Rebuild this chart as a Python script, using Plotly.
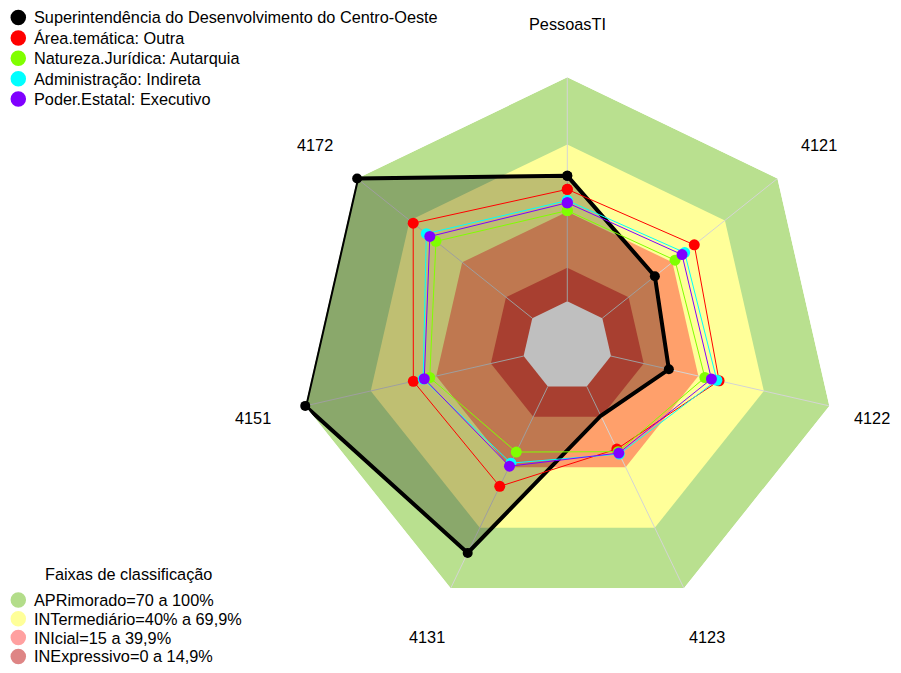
import math
import plotly.graph_objects as go

# ---------------- data ----------------
categories = ["PessoasTI", "4121", "4122", "4123", "4131", "4151", "4172"]

series_names = [
    "Superintendência do Desenvolvimento do Centro-Oeste",
    "Área.temática: Outra",
    "Natureza.Jurídica: Autarquia",
    "Administração: Indireta",
    "Poder.Estatal: Executivo",
]
sudeco = [56, 30, 26.5, 14.5, 82.5, 100, 100]
area_outra = [50, 52.5, 49.5, 31, 49.5, 50.5, 68]
natureza_autarquia = [40.5, 41.5, 43, 32.3, 32.5, 43, 55]
adm_indireta = [45, 47, 48.5, 33.5, 38, 46, 60.5]
poder_executivo = [44, 45.5, 46, 33, 39.5, 45.5, 58.5]

legend2_title = "Faixas de classificação"
band_labels = [
    "APRimorado=70 a 100%",
    "INTermediário=40% a 69,9%",
    "INIcial=15 a 39,9%",
    "INExpressivo=0 a 14,9%",
]
band_upper = [100, 70, 40, 15, 0]  # outer limit of each band (last = inner white core)
r_center, r_axis_min, r_axis_max = -20, 0, 100

# ---------------- styles / layout ----------------
PAGE_W, PAGE_H, BODY_MARGIN = 901, 673, 8   # the html page has the default 8px body margin
W, H = PAGE_W - BODY_MARGIN, PAGE_H - 2 * BODY_MARGIN
VISIBLE_RIGHT = PAGE_W - BODY_MARGIN - 1
FONT = "Arial, 'Liberation Sans', sans-serif"
FS = 16.3
band_fill = ["#B9E08F", "#FFFF99", "#FFA06B", "#E05540", "#FFFFFF"]
band_legend = ["#B3DD8A", "#FFFF99", "#FFA0A0", "#DE8585"]
series_colors = ["#000000", "#FF0000", "#80FF00", "#00FFFF", "#8000FF"]
series_values = [sudeco, area_outra, natureza_autarquia, adm_indireta, poder_executivo]

CX, CY, R100 = 567.3, 346.1, 268.8          # page-pixel centre and radius of the 100 ring
LABEL_FACTOR = 1.2                          # axis labels sit at 1.2 x the outer radius
LABEL_HALF_W = 18


def px(x):  # page pixel -> paper
    return (x - BODY_MARGIN) / W


def py(y):
    return 1 - (y - BODY_MARGIN) / H


def closed(v):
    return list(v) + [v[0]]


theta_c = closed(categories)
fig = go.Figure()

# background bands
for up, col in zip(band_upper, band_fill):
    fig.add_trace(go.Scatterpolar(
        r=[up] * (len(categories) + 1), theta=theta_c, mode="lines",
        line=dict(width=0, color=col), fill="toself", fillcolor=col,
        hoverinfo="skip", showlegend=False))

# spokes
sr, st = [], []
for c in categories:
    sr += [r_axis_min, r_axis_max, None]
    st += [c, c, None]
fig.add_trace(go.Scatterpolar(r=sr, theta=st, mode="lines",
                              line=dict(color="#D4D4D4", width=1),
                              hoverinfo="skip", showlegend=False))

# series
for i, (name, vals, col) in enumerate(zip(series_names, series_values, series_colors)):
    if i == 0:
        fig.add_trace(go.Scatterpolar(
            r=closed(vals), theta=theta_c, mode="lines+markers", name=name,
            line=dict(color=col, width=4), marker=dict(size=10, color=col),
            fill="toself", fillcolor="rgba(0,0,0,0.25)", showlegend=False))
    else:
        fig.add_trace(go.Scatterpolar(
            r=closed(vals), theta=theta_c, mode="lines+markers", name=name,
            line=dict(color=col, width=1), marker=dict(size=11, color=col),
            showlegend=False))

shapes, annotations = [], []

# axis labels (placed around the polygon, clockwise from the top)
n = len(categories)
for k, c in enumerate(categories):
    a = 2 * math.pi * k / n
    lx = CX + LABEL_FACTOR * R100 * math.sin(a)
    ly = CY - LABEL_FACTOR * R100 * math.cos(a)
    anchor = "center"
    if lx + LABEL_HALF_W > VISIBLE_RIGHT:      # keep the label inside the visible page
        lx, anchor = VISIBLE_RIGHT, "right"
    annotations.append(dict(xref="paper", yref="paper", x=px(lx), y=py(ly),
                            xanchor=anchor, yanchor="middle", showarrow=False,
                            text=c, font=dict(size=FS, family=FONT, color="#000000")))

# ---------------- custom legends ----------------
MK_X, MK_D, TXT_X = 18.3, 15.5, 32


def legend_row(y, col, text):
    shapes.append(dict(type="circle", xref="paper", yref="paper",
                       x0=px(MK_X - MK_D / 2), x1=px(MK_X + MK_D / 2),
                       y0=py(y + MK_D / 2), y1=py(y - MK_D / 2),
                       fillcolor=col, line=dict(width=0)))
    annotations.append(dict(xref="paper", yref="paper", x=px(TXT_X), y=py(y),
                            xanchor="left", yanchor="middle", showarrow=False,
                            text=text, font=dict(size=FS, family=FONT, color="#000000")))


L1_Y0, L1_DY = 17.5, 20.4
for i, (name, col) in enumerate(zip(series_names, series_colors)):
    legend_row(L1_Y0 + i * L1_DY, col, name)

L2_TITLE_Y, L2_Y0, L2_DY = 574, 600, 18.8
annotations.append(dict(xref="paper", yref="paper", x=px(128), y=py(L2_TITLE_Y),
                        xanchor="center", yanchor="middle", showarrow=False,
                        text=legend2_title, font=dict(size=FS, family=FONT, color="#000000")))
for i, (name, col) in enumerate(zip(band_labels, band_legend)):
    legend_row(L2_Y0 + i * L2_DY, col, name)

fig.update_layout(
    width=W, height=H,
    margin=dict(l=0, r=0, t=0, b=0, autoexpand=False),
    paper_bgcolor="white",
    showlegend=False,
    font=dict(family=FONT, size=FS, color="#000000"),
    polar=dict(
        domain=dict(x=[px(CX - R100), px(CX + R100)],
                    y=[py(CY + R100), py(CY - R100)]),
        gridshape="linear",
        bgcolor="rgba(0,0,0,0)",
        radialaxis=dict(range=[r_center, r_axis_max], visible=False, showgrid=False),
        angularaxis=dict(type="category", categoryarray=categories, direction="clockwise",
                         rotation=90, showgrid=False, showline=False,
                         showticklabels=False, ticks=""),
    ),
    shapes=shapes,
    annotations=annotations,
)

fig.write_html("out.html")
